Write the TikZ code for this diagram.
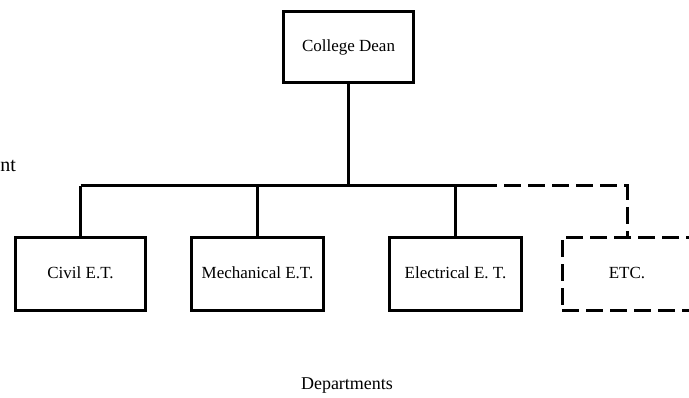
\documentclass[tikz,border=0pt]{standalone}
\usepackage{fontspec}
\setmainfont{Liberation Serif}
\usepackage{tikz}

\begin{document}
\begin{tikzpicture}[
    x=1pt, y=-1pt,
    line width=3pt,
    unit/.style={rectangle, draw, inner sep=0pt, minimum height=73pt,
        font=\fontsize{17}{20}\selectfont},
    etcdash/.style={dash pattern=on 17pt off 7pt}
]
\useasboundingbox (0,0) rectangle (689,398);
\clip (0,0) rectangle (689,398);

\node[unit, minimum width=130pt, minimum height=71pt] (dean) at (348.5,47) {College Dean};

\node[unit, minimum width=130pt] (civil) at (80.5,274) {\raisebox{2pt}{Civil E.T.}};
\node[unit, minimum width=132pt] (mech) at (257.5,274) {\raisebox{2pt}{Mechanical E.T.}};
\node[unit, minimum width=132pt] (elec) at (455.5,274) {\raisebox{2pt}{Electrical E. T.}};
\node[unit, etcdash, minimum width=130pt] (etc) at (627,274) {\raisebox{2pt}{ETC.}};

\coordinate (bus) at (480,186);

\draw (dean.south) -- (dean.south |- bus);
\draw (civil.north |- bus) -- (bus);
\draw[etcdash] (bus) -- (etc.north |- bus) -- (etc.north);
\foreach \d in {civil,mech,elec}
    \draw (\d.north) -- (\d.north |- bus);

\node[anchor=base west, inner sep=0pt, font=\fontsize{20}{24}\selectfont] (cut) at (-1,172) {nt};
\node[anchor=base, inner sep=0pt, font=\fontsize{18}{21}\selectfont] (depts) at (347,390) {Departments};
\end{tikzpicture}
\end{document}
